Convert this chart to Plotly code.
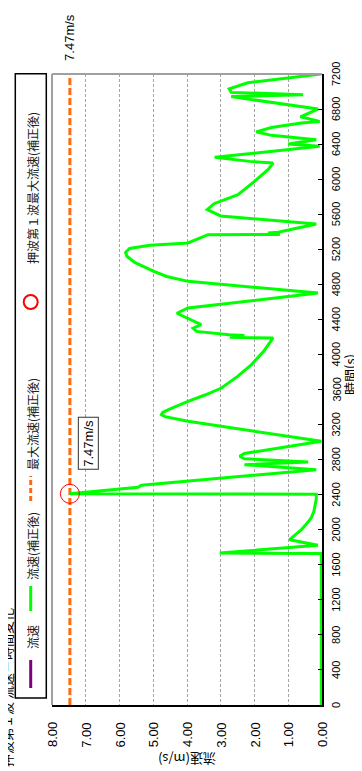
import plotly.graph_objects as go

# ---- data ----
time_s = [0, 1730, 1734, 1822, 1886, 1940, 2000, 2070, 2134, 2210, 2286, 2350, 2405, 2410,
          2484, 2507, 2685, 2742, 2773, 2810, 2838, 2870, 3009, 3237, 3290, 3313, 3340,
          3380, 3465, 3540, 3617, 3750, 3884, 4040, 4188, 4196, 4215, 4225, 4263, 4300,
          4340, 4408, 4470, 4530, 4701, 4834, 4890, 4950, 5050, 5120, 5165, 5210, 5245,
          5272, 5366, 5368, 5385, 5395, 5488, 5580, 5652, 5720, 5823, 5975, 6108, 6184,
          6203, 6249, 6375, 6401, 6450, 6500, 6540, 6590, 6641, 6659, 6712, 6800, 6942,
          6964, 6990, 7030, 7100, 7200]
velocity = [0.02, 0.02, 3.03, 0.12, 0.96, 0.78, 0.61, 0.45, 0.32, 0.24, 0.19, 0.17, 0.17,
            7.47, 5.45, 5.35, 0.17, 2.30, 0.41, 2.30, 2.44, 2.30, 0.02, 3.97, 4.65, 4.76,
            4.72, 4.50, 3.97, 3.45, 2.98, 2.50, 2.09, 1.72, 1.45, 2.73, 2.30, 2.75, 3.72,
            3.82, 3.58, 3.97, 4.30, 3.97, 0.12, 3.97, 4.60, 5.00, 5.55, 5.78, 5.82, 5.70,
            5.10, 3.97, 3.38, 1.25, 1.60, 1.30, 0.17, 3.00, 3.40, 3.20, 2.49, 2.00, 1.60,
            1.45, 2.14, 3.18, 0.07, 1.00, 0.17, 1.50, 1.95, 1.50, 0.61, 0.07, 0.64, 0.12,
            2.69, 0.56, 2.69, 2.75, 2.20, 0.02]
max_velocity = 7.47
peak_time = 2410
time_range = [0, 7200]
vel_ticks = [0, 1, 2, 3, 4, 5, 6, 7, 8]
vel_ticktext = ["0.00", "1.00", "2.00", "3.00", "4.00", "5.00", "6.00", "7.00", "8.00"]
time_ticks = list(range(0, 7201, 400))
time_ticktext = [str(t) for t in time_ticks]
legend_labels = ["流速", "流速(補正後)", "最大流速(補正後)", "押波第１波最大流速(補正後)"]

W, H = 362, 771
L, R, T, B = 44, 314, 66, 697


def px(x):
    return (x - L) / (R - L)


def py(y):
    return (B - y) / (B - T)


JP = "Noto Sans CJK JP"
NUM = "Liberation Sans"

fig = go.Figure()
fig.add_trace(go.Scatter(x=[max_velocity, max_velocity], y=time_range, mode="lines",
                         line=dict(color="#ff6a10", width=3, dash="7px,3px"),
                         showlegend=False, hoverinfo="skip"))
fig.add_trace(go.Scatter(x=velocity, y=time_s, mode="lines",
                         line=dict(color="#00ff00", width=3),
                         showlegend=False))
fig.add_trace(go.Scatter(x=[max_velocity], y=[peak_time], mode="markers",
                         marker=dict(symbol="circle-open", size=19,
                                     line=dict(color="#ff0000", width=1), color="#ff0000"),
                         showlegend=False))

shapes = [
    dict(type="line", xref="paper", yref="paper", x0=0, x1=1, y0=1, y1=1,
         line=dict(color="#a0a0a0", width=2)),
    dict(type="line", xref="paper", yref="paper", x0=0, x1=0, y0=0, y1=1,
         line=dict(color="#a0a0a0", width=2)),
    # legend box
    dict(type="rect", xref="paper", yref="paper", x0=px(7.3), x1=px(38.3),
         y0=py(690), y1=py(65.7), line=dict(color="#000000", width=1.5),
         fillcolor="rgba(0,0,0,0)"),
    dict(type="line", xref="paper", yref="paper", x0=px(22.7), x1=px(22.7),
         y0=py(680), y1=py(652), line=dict(color="#800080", width=3)),
    dict(type="line", xref="paper", yref="paper", x0=px(22.7), x1=px(22.7),
         y0=py(603), y1=py(578), line=dict(color="#00ff00", width=3)),
    dict(type="line", xref="paper", yref="paper", x0=px(22.7), x1=px(22.7),
         y0=py(493), y1=py(468), line=dict(color="#ff6a10", width=3, dash="5px,3px")),
    dict(type="circle", xref="paper", yref="paper", x0=px(15.7), x1=px(29.7),
         y0=py(301), y1=py(287), line=dict(color="#ff0000", width=2)),
]

ann = []
leg_centers = [629, 538, 416, 180]
for lab, cy in zip(legend_labels, leg_centers):
    ann.append(dict(text=lab, xref="paper", yref="paper", x=px(24), y=py(cy),
                    textangle=-90, showarrow=False, xanchor="center", yanchor="middle",
                    font=dict(family=JP, size=12, color="#222222")))

# tick labels placed through the axis scales
for v, lab in zip(vel_ticks, vel_ticktext):
    ann.append(dict(text=lab, x=v, xref="x", y=py(727), yref="paper", textangle=-90,
                    showarrow=False, xanchor="center", yanchor="middle",
                    font=dict(family=NUM, size=13, color="#000000")))
for t, lab in zip(time_ticks, time_ticktext):
    ann.append(dict(text=lab, x=px(328), xref="paper", y=t, yref="y", textangle=-90,
                    showarrow=False, xanchor="center", yanchor="middle",
                    font=dict(family=NUM, size=11, color="#000000")))

ann += [
    dict(text=f"{max_velocity:.2f}m/s", x=max_velocity, xref="x", yref="paper", y=py(29),
         textangle=-90, showarrow=False, xanchor="center", yanchor="middle",
         font=dict(family=NUM, size=13, color="#000000")),
    dict(text=f"{max_velocity:.2f}m/s", x=6.91, xref="x", y=2990, yref="y",
         textangle=-90, showarrow=False, xanchor="center", yanchor="middle",
         bgcolor="#ffffff", bordercolor="#333333", borderwidth=1, borderpad=2,
         font=dict(family=NUM, size=13, color="#000000")),
    dict(text="流速(m/s)", xref="paper", yref="paper", x=px(179), y=py(752),
         textangle=180, showarrow=False, xanchor="center", yanchor="middle",
         font=dict(family=JP, size=13, color="#000000")),
    dict(text="時間(s)", xref="paper", yref="paper", x=px(341), y=py(367),
         textangle=-90, showarrow=False, xanchor="center", yanchor="middle",
         font=dict(family=JP, size=13, color="#000000")),
    dict(text="押波第１波 流速－時間変化", xref="paper", yref="paper", x=px(-2), y=py(680),
         textangle=-90, showarrow=False, xanchor="center", yanchor="middle",
         font=dict(family=JP, size=13, color="#000000")),
]

fig.update_layout(
    template="none",
    width=W, height=H,
    margin=dict(l=L, r=W - R, t=T, b=H - B, pad=0, autoexpand=False),
    paper_bgcolor="#ffffff", plot_bgcolor="#ffffff",
    showlegend=False,
    shapes=shapes, annotations=ann,
    xaxis=dict(range=[8, 0], tickvals=vel_ticks, showticklabels=False,
               showgrid=True, gridcolor="#a6a6a6", gridwidth=1, griddash="3px,2px",
               showline=True, linecolor="#000000", linewidth=2, ticks="",
               zeroline=False, fixedrange=True, automargin=False),
    yaxis=dict(range=time_range, tickvals=time_ticks, side="right", showticklabels=False,
               showgrid=False, showline=True, linecolor="#000000", linewidth=2,
               ticks="inside", ticklen=4, tickcolor="#000000",
               zeroline=False, fixedrange=True, automargin=False),
)

fig.write_html("out.html")
